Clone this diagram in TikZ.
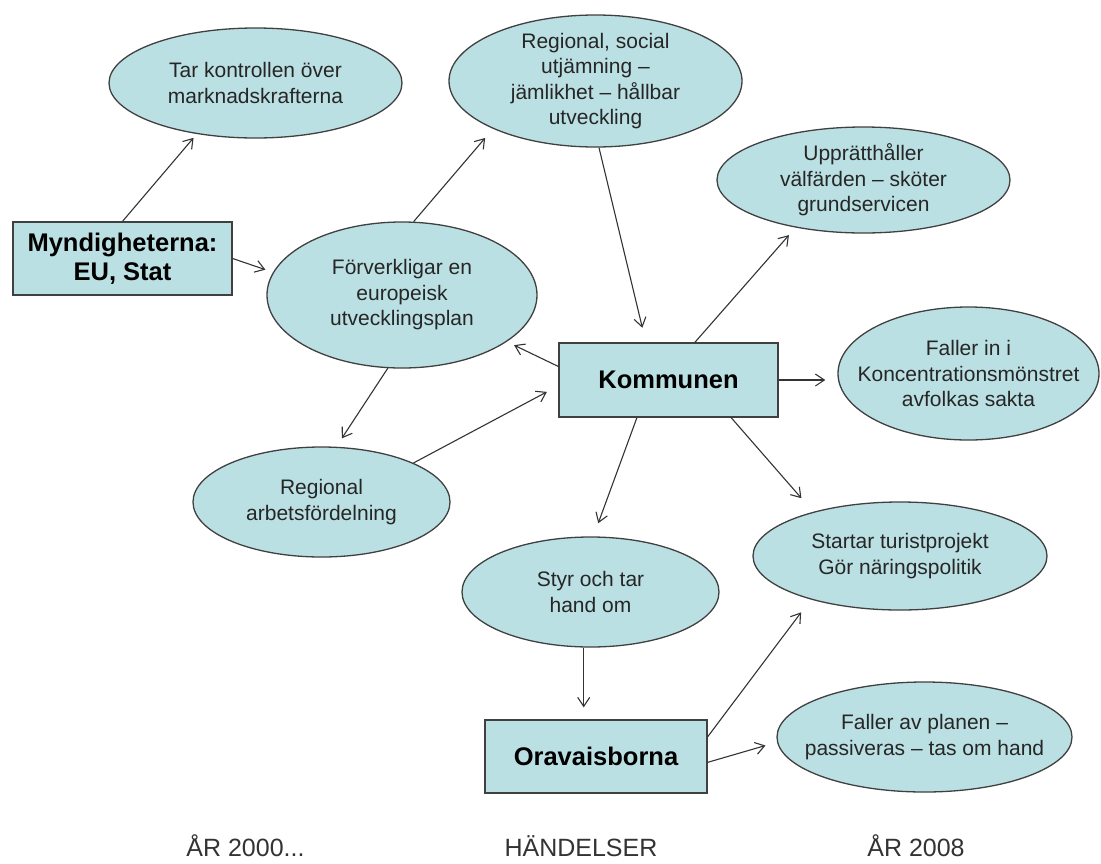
\documentclass[tikz,border=0pt]{standalone}
\usepackage{fontspec}
\setmainfont{Liberation Sans}
\usepackage{xcolor}
\usepackage{tikz}
\usetikzlibrary{arrows.meta, shapes.geometric}

\definecolor{bubblefill}{RGB}{187,224,227}
\definecolor{edgegray}{RGB}{64,64,64}

\begin{document}
\begin{tikzpicture}[
  x=1pt, y=-1pt,
  bubble/.style={ellipse, draw=edgegray, line width=1.3pt, fill=bubblefill, inner sep=0pt},
  txt/.style={align=center, text=black!85, font=\fontsize{21}{25.5}\selectfont},
  box/.style={rectangle, draw=edgegray, line width=1.3pt, fill=bubblefill, inner sep=0pt,
    align=center, font=\fontsize{25.5}{29}\selectfont\bfseries},
  arr/.style={-{Straight Barb[length=9pt, width=12pt]}, draw=black!80, line width=1.1pt},
  year/.style={anchor=base, inner sep=0pt, text=black!80, font=\fontsize{25}{30}\selectfont}
]
\useasboundingbox (0,0) rectangle (1101,863);
\node [box, minimum width=219, minimum height=73] (myn) at (122.5,258.5) {Myndigheterna:\\EU, Stat};
\node [box, minimum width=219, minimum height=74] (kom) at (668.5,380) {Kommunen};
\node [box, minimum width=222, minimum height=73] (ora) at (596,756.5) {Oravaisborna};
\node [bubble, minimum width=293, minimum height=110,
  label={[txt]center:Tar kontrollen över\\marknadskrafterna}] (tar) at (255.5,83) {};
\node [bubble, minimum width=293, minimum height=132,
  label={[txt]center:Regional, social\\utjämning –\\jämlikhet – hållbar\\utveckling}] (reg) at (595.5,81) {};
\node [bubble, minimum width=293, minimum height=106,
  label={[txt]center:Upprätthåller\\välfärden – sköter\\grundservicen}] (upp) at (863.5,180) {};
\node [bubble, minimum width=270, minimum height=146,
  label={[txt]center:Förverkligar en\\europeisk\\utvecklingsplan}] (forv) at (402,295) {};
\node [bubble, minimum width=261, minimum height=133,
  label={[txt]center:Faller in i\\Koncentrationsmönstret\\avfolkas sakta}] (fall) at (968.5,373.5) {};
\node [bubble, minimum width=257, minimum height=110,
  label={[txt]center:Regional\\arbetsfördelning}] (arb) at (321.5,502) {};
\node [bubble, minimum width=257, minimum height=110,
  label={[txt]center:Styr och tar\\hand om}] (styr) at (590.5,592) {};
\node [bubble, minimum width=294, minimum height=108,
  label={[txt]center:Startar turistprojekt\\Gör näringspolitik}] (start) at (900,556) {};
\node [bubble, minimum width=295, minimum height=110,
  label={[txt]center:Faller av planen –\\passiveras – tas om hand}] (fav) at (924.5,737) {};
\node [year] (y2000) at (245.5,856) {ÅR 2000...};
\node [year] (events) at (581,856) {HÄNDELSER};
\node [year] (y2008) at (916,856) {ÅR 2008};

\draw [arr, shorten >=5pt] (myn.north) -- (tar.221);
\draw [arr, shorten >=8pt] (myn.east) -- (forv.170);
\draw [arr, shorten >=12pt] (forv.81) -- (reg.205);
\draw [arr, shorten >=15pt] (reg.273) -- (kom.121);
\draw [arr, shorten >=10pt] (kom.55) -- (upp.215);
\draw [arr, shorten >=12pt] (kom.east) -- (kom.east -| fall.west);
\draw [arr, shorten >=8pt] (kom.173) -- (forv.336);
\draw [arr, shorten >=10pt] (forv.259) -- (arb.75);
\draw [arr, shorten >=13pt] (arb.23) -- (kom.183);
\draw [arr, shorten >=14pt] (kom.230) -- (styr.87);
\draw [arr, shorten >=18pt] (kom.329) -- (start.153);
\draw [arr, shorten >=12pt] (styr.263) -- (styr.263 |- ora.north);
\draw [arr, shorten >=16pt] (ora.10) -- (start.206);
\draw [arr, shorten >=12pt] (ora.357) -- (fav.182);
\end{tikzpicture}
\end{document}
